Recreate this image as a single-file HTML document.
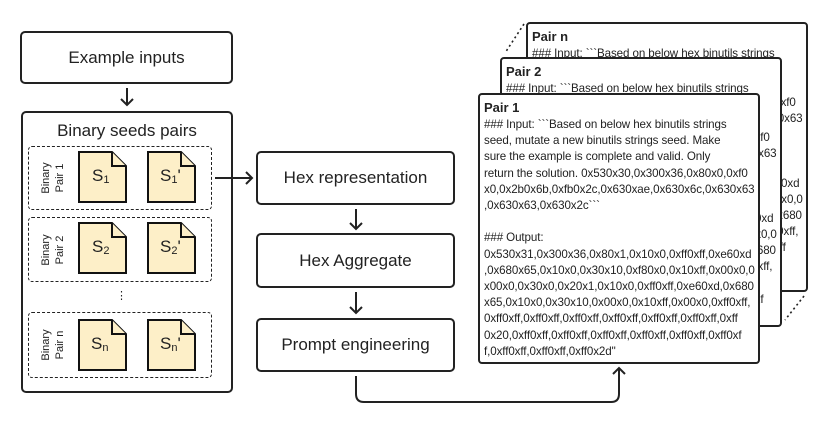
<!DOCTYPE html>
<html><head><meta charset="utf-8"><style>
html,body{margin:0;padding:0;background:#fff;width:830px;height:429px;overflow:hidden;position:relative;}
*{box-sizing:border-box;}
div{position:absolute;}
.t{font-family:"Liberation Sans",sans-serif;color:#222;}
.box{border:2px solid #222;border-radius:5px;background:#fff;font-family:"Liberation Sans",sans-serif;color:#222;font-size:17px;text-align:center;display:flex;align-items:center;justify-content:center;}
.dash{border:1.8px dashed #222;border-radius:4px;}
.pair{border:2px solid #222;border-radius:4px;background:#fff;overflow:hidden;width:282px;padding:4px 0 0 4px;font-family:"Liberation Sans",sans-serif;color:#222;font-size:11.6px;letter-spacing:-0.1px;line-height:16.2px;white-space:pre;}
.pair b{font-size:13px;letter-spacing:0;display:block;line-height:18px;}
.rot{font-family:"Liberation Sans",sans-serif;color:#222;font-size:11px;transform:rotate(-90deg);transform-origin:center;text-align:center;width:60px;line-height:14px;}
.s{font-family:"Liberation Sans",sans-serif;color:#222;font-size:17px;}
.s sub{font-size:11px;vertical-align:-2px;}
</style></head><body>

<div class="box" style="left:20px;top:31px;width:213px;height:53px;">Example inputs</div>
<div class="box" style="left:21px;top:111px;width:212px;height:282px;align-items:flex-start;padding-top:8px;">Binary seeds pairs</div>

<div class="dash" style="left:28px;top:146px;width:184px;height:64px;"></div>
<div class="dash" style="left:28px;top:217px;width:184px;height:65px;"></div>
<div class="dash" style="left:28px;top:312px;width:184px;height:66px;"></div>

<div class="rot" style="left:23px;top:164px;">Binary<br>Pair 1</div>
<div class="rot" style="left:23px;top:236px;">Binary<br>Pair 2</div>
<div class="rot" style="left:23px;top:331px;">Binary<br>Pair n</div>
<div class="t" style="left:116px;top:289px;font-size:11px;">⋮</div>

<svg style="position:absolute;left:0;top:0" width="830" height="429" viewBox="0 0 830 429">
<g stroke="#111" stroke-width="2" fill="#fdefc8">
  <path d="M79 152 H112 L126 166 V202 H79 Z"/><path d="M112 152 V166 H126"/>
  <path d="M148 152 H181 L195 166 V202 H148 Z"/><path d="M181 152 V166 H195"/>
  <path d="M79 223 H112 L126 237 V273 H79 Z"/><path d="M112 223 V237 H126"/>
  <path d="M148 223 H181 L195 237 V273 H148 Z"/><path d="M181 223 V237 H195"/>
  <path d="M79 320 H112 L126 334 V370 H79 Z"/><path d="M112 320 V334 H126"/>
  <path d="M148 320 H181 L195 334 V370 H148 Z"/><path d="M181 320 V334 H195"/>
</g>
<g fill="none" stroke="#222" stroke-width="2">
  <path d="M127 88 V105 M121 99 L127 105 L133 99"/>
  <path d="M215 178 H252 M246 172 L252 178 L246 184"/>
  <path d="M356 209 V229 M350 223 L356 229 L362 223"/>
  <path d="M356 292 V313 M350 307 L356 313 L362 307"/>
  <path d="M356 376 V394 Q356 402 364 402 H611 Q619 402 619 394 V368 M613 374 L619 368 L625 374"/>
  <g stroke-dasharray="2,3" stroke-width="1.6">
    <path d="M524 24 L505 53"/>
    <path d="M804 23 L785 53"/>
    <path d="M804 296 L785 320"/>
  </g>
</g>
</svg>

<div class="s" style="left:92px;top:166px;">S<sub>1</sub></div>
<div class="s" style="left:160px;top:166px;">S<sub>1</sub>'</div>
<div class="s" style="left:92px;top:237px;">S<sub>2</sub></div>
<div class="s" style="left:160px;top:237px;">S<sub>2</sub>'</div>
<div class="s" style="left:91px;top:334px;">S<sub>n</sub></div>
<div class="s" style="left:160px;top:334px;">S<sub>n</sub>'</div>

<div class="box" style="left:256px;top:151px;width:199px;height:54px;">Hex representation</div>
<div class="box" style="left:256px;top:233px;width:199px;height:55px;">Hex Aggregate</div>
<div class="box" style="left:256px;top:318px;width:199px;height:54px;">Prompt engineering</div>

<div class="pair" style="left:526px;top:22px;height:270px;"><b>Pair n</b>### Input: &#96;&#96;&#96;Based on below hex binutils strings
seed, mutate a new binutils strings seed. Make
sure the example is complete and valid. Only
return the solution. 0x530x30,0x300x36,0x80x0,0xf0
x0,0x2b0x6b,0xfb0x2c,0x630xae,0x630x6c,0x630x63
,0x630x63,0x630x2c&#96;&#96;&#96;

### Output:
0x530x31,0x300x36,0x80x1,0x10x0,0xff0xff,0xe60xd
,0x680x65,0x10x0,0x30x10,0xf80x0,0x10xff,0x00x0,0
x00x0,0x30x0,0x20x1,0x10x0,0xff0xff,0xe60xd,0x680
x65,0x10x0,0x30x10,0x00x0,0x10xff,0x00x0,0xff0xff,
0xff0xff,0xff0xff,0xff0xff,0xff0xff,0xff0xff,0xff0xff,0xff</div>

<div class="pair" style="left:500px;top:57px;height:270px;"><b>Pair 2</b>### Input: &#96;&#96;&#96;Based on below hex binutils strings
seed, mutate a new binutils strings seed. Make
sure the example is complete and valid. Only
return the solution. 0x530x30,0x300x36,0x80x0,0xf0
x0,0x2b0x6b,0xfb0x2c,0x630xae,0x630x6c,0x630x63
,0x630x63,0x630x2c&#96;&#96;&#96;

### Output:
0x530x31,0x300x36,0x80x1,0x10x0,0xff0xff,0xe60xd
,0x680x65,0x10x0,0x30x10,0xf80x0,0x10xff,0x00x0,0
x00x0,0x30x0,0x20x1,0x10x0,0xff0xff,0xe60xd,0x680
x65,0x10x0,0x30x10,0x00x0,0x10xff,0x00x0,0xff0xff,
0xff0xff,0xff0xff,0xff0xff,0xff0xff,0xff0xff,0xff0xff,0xff
0x20,0xff0xff,0xff0xff,0xff0xff,0xff0xff,0xff0xff,0xff0xf</div>

<div class="pair" style="left:478px;top:93px;height:271px;"><b>Pair 1</b>### Input: &#96;&#96;&#96;Based on below hex binutils strings
seed, mutate a new binutils strings seed. Make
sure the example is complete and valid. Only
return the solution. 0x530x30,0x300x36,0x80x0,0xf0
x0,0x2b0x6b,0xfb0x2c,0x630xae,0x630x6c,0x630x63
,0x630x63,0x630x2c&#96;&#96;&#96;

### Output:
0x530x31,0x300x36,0x80x1,0x10x0,0xff0xff,0xe60xd
,0x680x65,0x10x0,0x30x10,0xf80x0,0x10xff,0x00x0,0
x00x0,0x30x0,0x20x1,0x10x0,0xff0xff,0xe60xd,0x680
x65,0x10x0,0x30x10,0x00x0,0x10xff,0x00x0,0xff0xff,
0xff0xff,0xff0xff,0xff0xff,0xff0xff,0xff0xff,0xff0xff,0xff
0x20,0xff0xff,0xff0xff,0xff0xff,0xff0xff,0xff0xff,0xff0xf
f,0xff0xff,0xff0xff,0xff0x2d"</div>

</body></html>
